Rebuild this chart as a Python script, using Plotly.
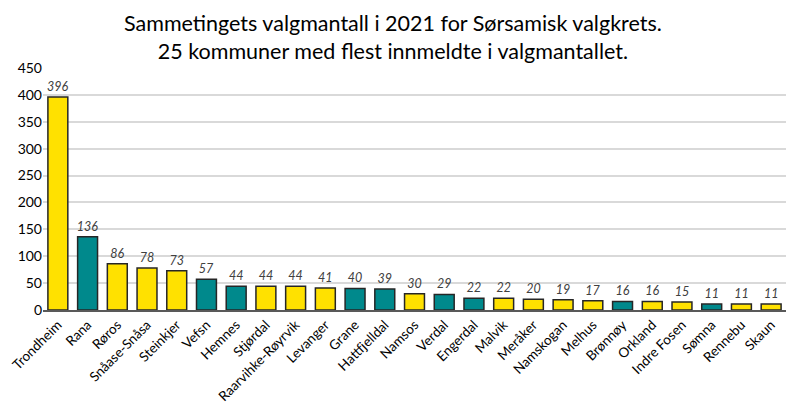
import plotly.graph_objs as go

kommuner = ["Trondheim", "Rana", "Røros", "Snåase-Snåsa", "Steinkjer", "Vefsn", "Hemnes",
            "Stjørdal", "Raarvihke-Røyrvik", "Levanger", "Grane", "Hattfjelldal", "Namsos",
            "Verdal", "Engerdal", "Malvik", "Meråker", "Namskogan", "Melhus", "Brønnøy",
            "Orkland", "Indre Fosen", "Sømna", "Rennebu", "Skaun"]
innmeldte = [396, 136, 86, 78, 73, 57, 44, 44, 44, 41, 40, 39, 30, 29, 22, 22, 20, 19, 17, 16,
             16, 15, 11, 11, 11]
# teal = kommuner i Nordland/Innlandet, gul = Trøndelag
fylke = ["T", "N", "T", "T", "T", "N", "N", "T", "T", "T", "N", "N", "T", "N", "N", "T", "T",
         "T", "T", "N", "T", "T", "N", "T", "T"]

farger = {"T": "#FFE100", "N": "#00898C"}

trace = go.Bar(
    x=kommuner,
    y=innmeldte,
    marker=dict(color=[farger[f] for f in fylke], line=dict(color="#262626", width=1.5)),
    text=[f"{v}" for v in innmeldte],
    textposition="outside",
    textfont=dict(family="Lato", size=12.5, color="#404040", style="italic"),
    cliponaxis=False,
)

# siden legger til 8px marg rundt figuren, så figuren er litt mindre enn vinduet
layout = go.Layout(
    width=792, height=402,
    paper_bgcolor="white", plot_bgcolor="white",
    margin=dict(l=35, r=14, t=60, b=100),
    bargap=0.33,
    showlegend=False,
    uniformtext=dict(minsize=12, mode="show"),
    annotations=[dict(
        text="Sammetingets valgmantall i 2021 for Sørsamisk valgkrets.<br>25 kommuner med flest innmeldte i valgmantallet.",
        xref="paper", yref="paper", x=0.471, y=1, xanchor="center", yanchor="bottom",
        yshift=2, showarrow=False, align="center",
        font=dict(family="Lato", size=21.5, color="#000000"),
    )],
    xaxis=dict(
        tickangle=-45, automargin=False,
        tickfont=dict(family="Lato", size=13.5, color="#000000"),
        showline=True, linecolor="#595959", linewidth=1.5,
        ticks="",
    ),
    yaxis=dict(
        range=[0, 450], dtick=50, automargin=False,
        tickfont=dict(family="Lato", size=14, color="#000000"),
        showgrid=True, gridcolor="#D9D9D9", gridwidth=1.5,
        zeroline=False, ticks="",
    ),
)

fig = go.Figure(data=[trace], layout=layout)
fig.write_html("out.html")
